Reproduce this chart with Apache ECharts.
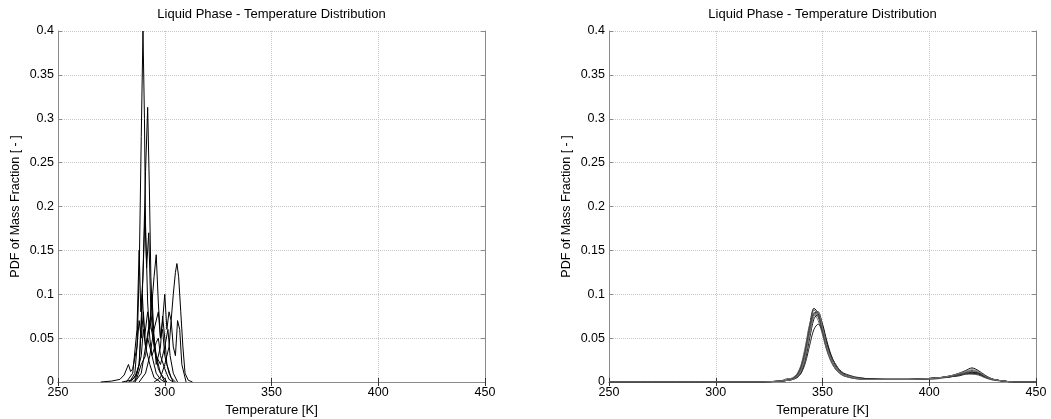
<!DOCTYPE html>
<html>
<head>
<meta charset="utf-8">
<script src="https://cdn.jsdelivr.net/npm/echarts@6/dist/echarts.min.js"></script>
<style>
    html, body { margin: 0; padding: 0; background: #fff; }
    #chart { width: 1051px; height: 419px; }
</style>
</head>
<body>
<div id="chart"></div>
<script>
// titles / axis text
const titleText = 'Liquid Phase - Temperature Distribution'
const xName = 'Temperature [K]'
const yName = 'PDF of Mass Fraction [ - ]'

// left plot: spiky pdfs, [T, pdf]
const left1 = [[280, 0], [284, 0.002], [286, 0.01], [287, 0.04], [288, 0.12], [289, 0.28], [289.8, 0.4], [290.5, 0.3], [291, 0.18], [292, 0.09], [293, 0.05], [294, 0.03], [296, 0.01], [298, 0.003], [300, 0]]
const left2 = [[283, 0], [286, 0.005], [288, 0.02], [289, 0.06], [290, 0.14], [291, 0.24], [292, 0.313], [292.8, 0.22], [293.5, 0.12], [294.5, 0.06], [296, 0.03], [298, 0.01], [301, 0]]
const left3 = [[282, 0], [285, 0.01], [287, 0.06], [288, 0.15], [288.8, 0.08], [289.8, 0.12], [290.7, 0.19], [291.5, 0.13], [292.5, 0.17], [293.5, 0.08], [295, 0.04], [297, 0.015], [300, 0]]
const left4 = [[286, 0], [289, 0.01], [291, 0.04], [293, 0.07], [294, 0.09], [295, 0.12], [296, 0.145], [297, 0.09], [298, 0.05], [299, 0.06], [300, 0.03], [302, 0.01], [304, 0]]
const left5 = [[295, 0], [298, 0.005], [300, 0.02], [302, 0.04], [303, 0.07], [304, 0.1], [305, 0.125], [305.7, 0.135], [306.5, 0.12], [307.5, 0.08], [308.5, 0.04], [309.5, 0.01], [311, 0.002], [313, 0]]
const left6 = [[288, 0], [291, 0.01], [293, 0.03], [295, 0.06], [297, 0.08], [298, 0.05], [299, 0.07], [300, 0.1], [301, 0.06], [302, 0.08], [303, 0.07], [304, 0.04], [305, 0.03], [306, 0.07], [307, 0.06], [308, 0.02], [310, 0]]
const left7 = [[270, 0], [275, 0.001], [279, 0.003], [281, 0.008], [283, 0.02], [284, 0.012], [285, 0.015], [287, 0.04], [288, 0.07], [289, 0.05], [290, 0.08], [291, 0.04], [293, 0.02], [295, 0.005], [298, 0]]
const left8 = [[284, 0], [287, 0.01], [289, 0.03], [290, 0.06], [291, 0.04], [292, 0.05], [294, 0.03], [296, 0.045], [297, 0.05], [298, 0.03], [300, 0.015], [302, 0.003], [304, 0]]
const left9 = [[286, 0], [288, 0.02], [289.5, 0.1], [290.5, 0.05], [292, 0.08], [293, 0.06], [294, 0.1], [295, 0.05], [296, 0.02], [298, 0.04], [299, 0.075], [300, 0.05], [301, 0.02], [303, 0.005], [305, 0]]
const left10 = [[285, 0], [287, 0.005], [289, 0.02], [291, 0.03], [293, 0.07], [294.5, 0.05], [296, 0.03], [298, 0.02], [300, 0.04], [301.5, 0.06], [302.5, 0.03], [304, 0.01], [306, 0]]

// right plot: smooth pdfs on shared temperatures
const rightT = [250, 320, 330, 334, 336, 338, 340, 342, 344, 346, 348, 350, 352, 354, 356, 358, 360, 365, 370, 380, 390, 400, 405, 410, 414, 417, 420, 423, 426, 430, 435, 440, 450]
const right1 = [0, 0, 0.001, 0.002, 0.004, 0.008, 0.018, 0.038, 0.065, 0.084, 0.078, 0.058, 0.038, 0.024, 0.015, 0.010, 0.007, 0.004, 0.003, 0.003, 0.003, 0.004, 0.005, 0.007, 0.010, 0.013, 0.016, 0.013, 0.008, 0.003, 0.001, 0, 0]
const right2 = [0, 0, 0.001, 0.002, 0.003, 0.006, 0.014, 0.032, 0.058, 0.078, 0.080, 0.064, 0.043, 0.027, 0.017, 0.011, 0.008, 0.005, 0.004, 0.003, 0.003, 0.004, 0.005, 0.007, 0.009, 0.011, 0.013, 0.011, 0.007, 0.003, 0.001, 0, 0]
const right3 = [0, 0, 0.001, 0.003, 0.005, 0.009, 0.020, 0.041, 0.066, 0.077, 0.070, 0.054, 0.036, 0.023, 0.015, 0.010, 0.007, 0.004, 0.003, 0.003, 0.003, 0.004, 0.005, 0.006, 0.009, 0.011, 0.012, 0.010, 0.006, 0.003, 0.001, 0, 0]
const right4 = [0, 0, 0.001, 0.002, 0.003, 0.005, 0.011, 0.026, 0.050, 0.072, 0.077, 0.066, 0.047, 0.031, 0.020, 0.013, 0.009, 0.005, 0.004, 0.003, 0.003, 0.004, 0.005, 0.006, 0.008, 0.010, 0.011, 0.010, 0.006, 0.003, 0.001, 0, 0]
const right5 = [0, 0, 0.001, 0.004, 0.003, 0.007, 0.016, 0.036, 0.062, 0.082, 0.076, 0.056, 0.037, 0.025, 0.018, 0.012, 0.008, 0.005, 0.003, 0.003, 0.003, 0.003, 0.004, 0.006, 0.008, 0.010, 0.010, 0.009, 0.006, 0.003, 0.001, 0, 0]
const right6 = [0, 0, 0.001, 0.002, 0.003, 0.005, 0.010, 0.022, 0.042, 0.060, 0.066, 0.058, 0.044, 0.030, 0.020, 0.014, 0.010, 0.006, 0.004, 0.003, 0.003, 0.004, 0.005, 0.006, 0.007, 0.009, 0.010, 0.009, 0.006, 0.003, 0.001, 0, 0]
const right7 = [0, 0, 0.001, 0.002, 0.004, 0.008, 0.017, 0.035, 0.060, 0.079, 0.074, 0.057, 0.040, 0.028, 0.021, 0.013, 0.008, 0.005, 0.003, 0.003, 0.003, 0.004, 0.005, 0.006, 0.008, 0.009, 0.009, 0.008, 0.005, 0.002, 0.001, 0, 0]
const right8 = [0, 0, 0.001, 0.002, 0.003, 0.006, 0.013, 0.030, 0.055, 0.075, 0.079, 0.062, 0.041, 0.026, 0.017, 0.011, 0.008, 0.005, 0.003, 0.003, 0.003, 0.004, 0.005, 0.007, 0.010, 0.012, 0.014, 0.012, 0.007, 0.003, 0.001, 0, 0]

const leftSets = [left1, left2, left3, left4, left5, left6, left7, left8, left9, left10]
const rightSets = [right1, right2, right3, right4, right5, right6, right7, right8]
const rightColors = ['#000', '#333', '#666', '#111', '#555', '#222', '#444', '#777']

let mycharts = echarts.init(document.getElementById('chart'))

const font = 'Liberation Sans, Arial, sans-serif'
const axisGray = '#8a8a8a'

function bottomX(gi) {
    return {
        type: 'value', gridIndex: gi, min: 250, max: 450, interval: 50,
        name: xName, nameLocation: 'middle', nameGap: 21,
        nameTextStyle: { color: '#000', fontSize: 13, fontFamily: font, verticalAlign: 'top' },
        axisLine: { show: true, lineStyle: { color: axisGray } },
        axisTick: { show: true, inside: true, length: 4, lineStyle: { color: '#333' } },
        axisLabel: { color: '#000', fontSize: 12.5, fontFamily: font, margin: 4 },
        splitLine: { show: true, lineStyle: { type: 'dotted', color: '#c8c8c8' } }
    }
}
function topX(gi) {
    return {
        type: 'value', gridIndex: gi, position: 'top', min: 250, max: 450, interval: 50,
        name: titleText, nameLocation: 'middle', nameGap: 10,
        nameTextStyle: { color: '#000', fontSize: 13, fontFamily: font },
        axisLine: { show: true, lineStyle: { color: axisGray } },
        axisTick: { show: true, inside: true, length: 4, lineStyle: { color: '#333' } },
        axisLabel: { show: false },
        splitLine: { show: false }
    }
}
function leftY(gi) {
    return {
        type: 'value', gridIndex: gi, min: 0, max: 0.4, interval: 0.05,
        name: yName, nameLocation: 'middle', nameGap: 36,
        nameTextStyle: { color: '#000', fontSize: 12.5, fontFamily: font },
        axisLine: { show: true, lineStyle: { color: axisGray } },
        axisTick: { show: true, inside: true, length: 4, lineStyle: { color: axisGray } },
        axisLabel: {
            color: '#000', fontSize: 12.5, fontFamily: font, margin: 4,
            formatter: function (v) { return String(+v.toFixed(2)) }
        },
        splitLine: { show: true, lineStyle: { type: 'dotted', color: '#c8c8c8' } }
    }
}
function rightY(gi) {
    return {
        type: 'value', gridIndex: gi, position: 'right', min: 0, max: 0.4, interval: 0.05,
        axisLine: { show: true, lineStyle: { color: axisGray } },
        axisTick: { show: true, inside: true, length: 4, lineStyle: { color: axisGray } },
        axisLabel: { show: false },
        splitLine: { show: false }
    }
}

let series = []
leftSets.forEach(function (d) {
    series.push({
        type: 'line', xAxisIndex: 0, yAxisIndex: 0, data: d,
        showSymbol: false, lineStyle: { color: '#000', width: 1 }
    })
})
rightSets.forEach(function (vals, i) {
    series.push({
        type: 'line', xAxisIndex: 2, yAxisIndex: 2, smooth: 0.3,
        data: rightT.map(function (t, k) { return [t, vals[k]] }),
        showSymbol: false, lineStyle: { color: rightColors[i], width: 1 }
    })
})

mycharts.setOption({
    animation: false,
    grid: [
        { left: 58, top: 31, width: 427, height: 351, outerBoundsMode: 'none' },
        { left: 609, top: 31, width: 427, height: 351, outerBoundsMode: 'none' }
    ],
    xAxis: [bottomX(0), topX(0), bottomX(1), topX(1)],
    yAxis: [leftY(0), rightY(0), leftY(1), rightY(1)],
    series: series
})
</script>
</body>
</html>
